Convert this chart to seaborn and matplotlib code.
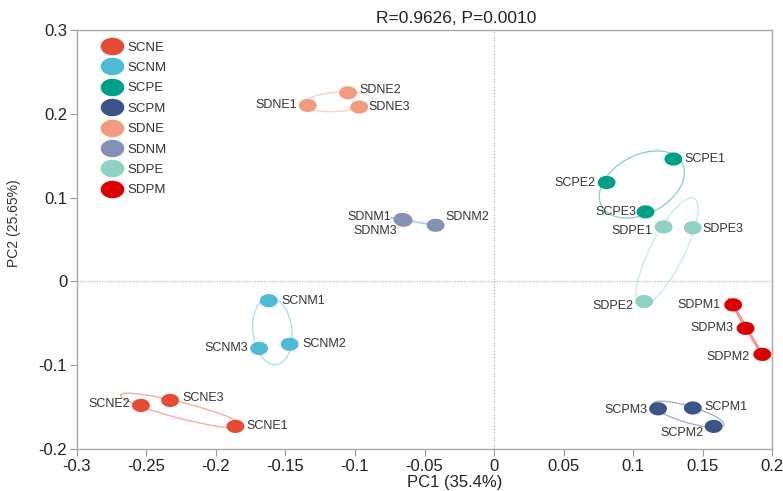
import numpy as np
import pandas as pd
import matplotlib
matplotlib.use("Agg")
import matplotlib.pyplot as plt
from matplotlib.patches import Ellipse
from matplotlib.path import Path
from matplotlib.lines import Line2D
import seaborn as sns

# PCoA sample scores
samples = ["SCNE1", "SCNE2", "SCNE3",
           "SCNM1", "SCNM2", "SCNM3",
           "SCPE1", "SCPE2", "SCPE3",
           "SCPM1", "SCPM2", "SCPM3",
           "SDNE1", "SDNE2", "SDNE3",
           "SDNM1", "SDNM2", "SDNM3",
           "SDPE1", "SDPE2", "SDPE3",
           "SDPM1", "SDPM2", "SDPM3"]
pc1 = [-0.186, -0.254, -0.233,
       -0.162, -0.147, -0.169,
       0.129, 0.081, 0.109,
       0.143, 0.158, 0.118,
       -0.134, -0.105, -0.097,
       -0.066, -0.042, -0.065,
       0.122, 0.108, 0.143,
       0.172, 0.193, 0.181]
pc2 = [-0.173, -0.148, -0.142,
       -0.023, -0.075, -0.080,
       0.146, 0.118, 0.083,
       -0.151, -0.173, -0.152,
       0.210, 0.225, 0.208,
       0.074, 0.067, 0.073,
       0.065, -0.024, 0.064,
       -0.028, -0.087, -0.056]
groups = ["SCNE", "SCNM", "SCPE", "SCPM", "SDNE", "SDNM", "SDPE", "SDPM"]
group_colors = ["#E64B35", "#4DBBD5", "#00A087", "#3C5488",
                "#F39B7F", "#8491B4", "#91D1C2", "#DC0000"]
title_text = "R=0.9626, P=0.0010"
xlabel_text = "PC1 (35.4%)"
ylabel_text = "PC2 (25.65%)"
xticks = [-0.3, -0.25, -0.2, -0.15, -0.1, -0.05, 0, 0.05, 0.1, 0.15, 0.2]
xtick_labels = ["-0.3", "-0.25", "-0.2", "-0.15", "-0.1", "-0.05", "0", "0.05", "0.1", "0.15", "0.2"]
yticks = [-0.2, -0.1, 0, 0.1, 0.2, 0.3]
ytick_labels = ["-0.2", "-0.1", "0", "0.1", "0.2", "0.3"]

# label placement: (dx, dy) in points and horizontal alignment
label_offsets = {
    "SCNE1": (8, 0, "left"), "SCNE2": (-8, 1, "right"), "SCNE3": (9, 2, "left"),
    "SCNM1": (9, 0, "left"), "SCNM2": (9, 0, "left"), "SCNM3": (-8, 0, "right"),
    "SCPE1": (8, 0, "left"), "SCPE2": (-8, 0, "right"), "SCPE3": (-7, 0, "right"),
    "SCPM1": (8, 1, "left"), "SCPM2": (-7, -5, "right"), "SCPM3": (-8, -1, "right"),
    "SDNE1": (-8, 0, "right"), "SDNE2": (8, 2, "left"), "SDNE3": (7, 0, "left"),
    "SDNM1": (-8, 2, "right"), "SDNM2": (7, 6, "left"), "SDNM3": (-5, -8, "right"),
    "SDPE1": (-8, -3, "right"), "SDPE2": (-8, -3, "right"), "SDPE3": (7, -1, "left"),
    "SDPM1": (-9, 0, "right"), "SDPM2": (-9, -2, "right"), "SDPM3": (-9, 0, "right"),
}

df = pd.DataFrame({"sample": samples, "PC1": pc1, "PC2": pc2})
df["group"] = df["sample"].str[:-1]
palette = dict(zip(groups, group_colors))

sns.set_style("white")
plt.rcParams["font.family"] = ["Liberation Sans", "DejaVu Sans"]

fig = plt.figure(figsize=(7.83, 4.91), dpi=100)
ax = fig.add_axes([0.0983, 0.0855, 0.8877, 0.8534])

# elliptical dot marker
t = np.linspace(0, 2 * np.pi, 60)
dot = Path(np.column_stack([np.cos(t), 0.74 * np.sin(t)]), closed=True)

# group ellipses from sample covariance
k = 1.27
for g, col in palette.items():
    sub = df[df["group"] == g]
    xy = sub[["PC1", "PC2"]].to_numpy()
    cen = xy.mean(axis=0)
    cov = np.cov(xy, rowvar=False)
    vals, vecs = np.linalg.eigh(cov)
    vals = np.clip(vals, 1e-9, None)
    ang = np.degrees(np.arctan2(vecs[1, 1], vecs[0, 1]))
    e = Ellipse(cen, 2 * k * np.sqrt(vals[1]), 2 * k * np.sqrt(vals[0]), angle=ang,
                fill=False, edgecolor=col, alpha=0.45, lw=1.0, zorder=2)
    ax.add_patch(e)

ax.axhline(0, color="#aaaaaa", lw=0.8, ls=(0, (1, 1.5)), zorder=1)
ax.axvline(0, color="#aaaaaa", lw=0.8, ls=(0, (1, 1.5)), zorder=1)

sns.scatterplot(data=df, x="PC1", y="PC2", hue="group", hue_order=groups,
                palette=palette, marker=dot, s=165, linewidth=0, ax=ax,
                legend=False, zorder=3)

for _, r in df.iterrows():
    dx, dy, ha = label_offsets[r["sample"]]
    ax.annotate(r["sample"], (r["PC1"], r["PC2"]), xytext=(dx, dy),
                textcoords="offset points", ha=ha, va="center",
                fontsize=9, color="#333333", zorder=4)

handles = [Line2D([], [], marker=dot, ls="", markersize=17, color=c,
                  markeredgewidth=0) for c in group_colors]
leg = ax.legend(handles, groups, loc="upper left", bbox_to_anchor=(0.02, 0.992),
                frameon=False, fontsize=9.5, handletextpad=0.15,
                labelspacing=0.62, borderaxespad=0.2)
for txt in leg.get_texts():
    txt.set_color("#333333")

ax.set_xlim(-0.3, 0.2)
ax.set_ylim(-0.2, 0.3)
ax.set_xticks(xticks)
ax.set_xticklabels(xtick_labels)
ax.set_yticks(yticks)
ax.set_yticklabels(ytick_labels)
ax.tick_params(axis="both", direction="out", length=5, width=0.8,
               color="#999999", labelsize=12, labelcolor="#222222", pad=2,
               bottom=True, left=True)
for sp in ax.spines.values():
    sp.set_color("#aaaaaa")
    sp.set_linewidth(1.0)

ax.set_xlabel(xlabel_text, fontsize=12, color="#222222", va="center")
ax.xaxis.set_label_coords(0.544, -0.081)
ax.set_ylabel(ylabel_text, fontsize=10, color="#333333")
ax.yaxis.set_label_coords(-0.081, 0.539)
ax.set_title(title_text, fontsize=12.5, color="#222222", x=0.545, pad=5)

fig.savefig("out.png", dpi=100)
